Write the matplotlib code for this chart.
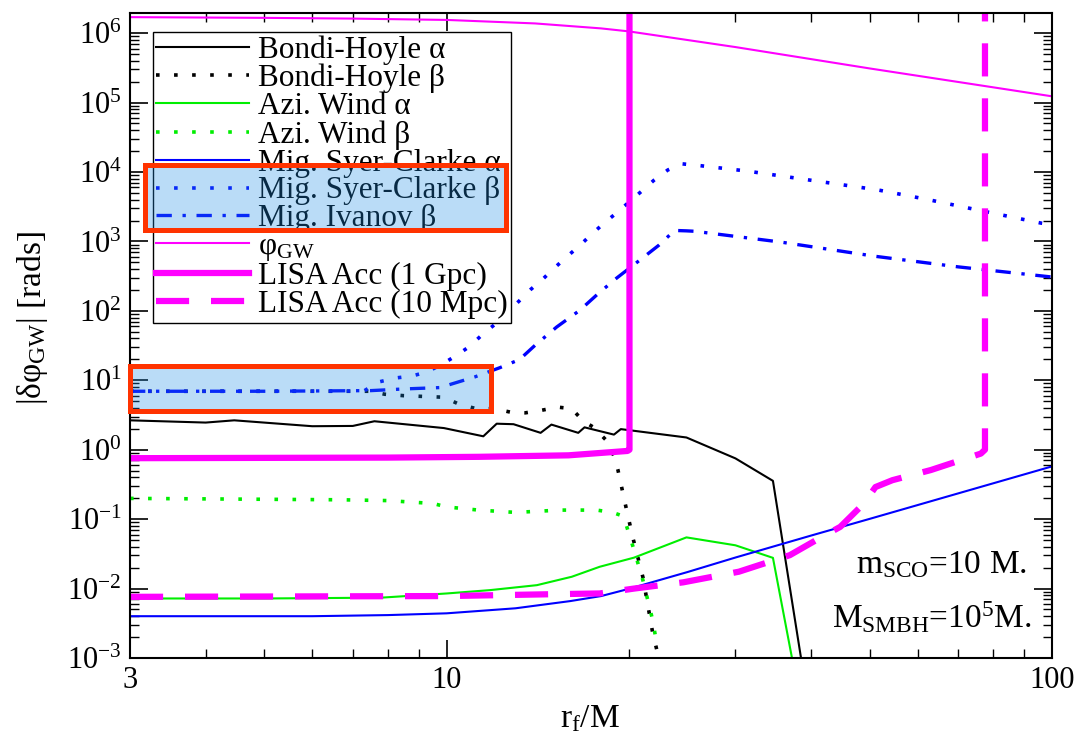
import numpy as np
import matplotlib
matplotlib.use('Agg')
import matplotlib.pyplot as plt
from matplotlib.patches import Rectangle
from matplotlib.ticker import LogLocator, NullFormatter, FixedLocator, FixedFormatter

plt.rcParams['font.family'] = ['Liberation Serif', 'DejaVu Serif']
plt.rcParams['mathtext.fontset'] = 'custom'
plt.rcParams['mathtext.rm'] = 'Liberation Serif'
plt.rcParams['mathtext.it'] = 'Liberation Serif:italic'
plt.rcParams['mathtext.bf'] = 'Liberation Serif:bold'

# --- data (r_f/M, |dphi| in rads) ---
phi_x = [3, 5, 7, 10, 14, 18, 20, 30, 50, 70, 100]
phi_y = [1.70e6, 1.66e6, 1.62e6, 1.55e6, 1.38e6, 1.17e6, 1.06e6, 6.3e5, 3.1e5, 1.98e5, 1.23e5]

bh_a_x = [3, 4.0, 4.46, 6.0, 7.0, 7.6, 9.9, 11.5, 12.1, 12.9, 14.3, 14.9, 16.5, 16.9,
          18.9, 19.4, 24.9, 30, 34.6, 38.5, 40.0]
bh_a_y = [2.65, 2.46, 2.65, 2.18, 2.2, 2.57, 2.05, 1.56, 2.37, 2.33, 1.75, 2.3, 1.75, 2.1,
          1.65, 1.98, 1.5, 0.75, 0.356, 1e-3, 1e-4]

bh_b_x = [3, 5, 7.5, 7.9, 8.5, 9.9, 10.5, 11.2, 12.0, 12.8, 13.5, 14.35, 15.28, 16.1,
          16.8, 17.5, 18.35, 18.9, 19.19, 19.7, 20.3, 21.1, 21.9, 22.3]
bh_b_y = [6.95, 6.95, 6.95, 6.3, 6.0, 5.7, 4.5, 3.9, 3.9, 3.45, 3.4, 3.7, 4.1, 3.9,
          2.6, 2.1, 1.37, 0.81, 0.51, 0.176, 0.055, 0.0146, 2.3e-3, 1.2e-3]

azi_a_x = [3, 5, 7.8, 10, 11.8, 14.1, 16.1, 17.9, 20.4, 24.9, 30, 34.6, 37.2, 38.3]
azi_a_y = [7.2e-3, 7.2e-3, 7.4e-3, 8.5e-3, 9.5e-3, 0.0112, 0.0148, 0.0206, 0.0279, 0.0546,
           0.042, 0.0277, 1e-3, 1e-4]

azi_b_x = [3, 6.7, 8.0, 9.5, 10, 11.3, 13.0, 15.4, 17.7, 18.8, 19.6, 20.4, 21.1, 21.9, 22.3]
azi_b_y = [0.199, 0.19, 0.185, 0.168, 0.15, 0.135, 0.125, 0.135, 0.135, 0.125, 0.11,
           0.036, 0.0132, 3.5e-3, 1.4e-3]

sc_a_x = [3, 6, 8, 10, 13, 16, 18, 20, 25, 30, 40, 50, 70, 100]
sc_a_y = [4.0e-3, 4.0e-3, 4.15e-3, 4.4e-3, 5.2e-3, 6.6e-3, 7.8e-3, 9.9e-3, 0.0173, 0.028,
          0.058, 0.101, 0.235, 0.575]

sc_b_x = [3, 5, 7.3, 7.73, 8.24, 8.76, 9.29, 9.87, 10.35, 10.92, 11.42, 12.02, 13.16, 13.76,
          14.44, 15.09, 15.82, 16.6, 17.4, 18.2, 19.13, 21.0, 22.0, 23.2, 24.5, 26.1, 31.4,
          40.2, 51.4, 62.3, 75.1, 96, 100]
sc_b_y = [6.95, 6.95, 7.0, 9.47, 10.8, 11.5, 13.2, 17.4, 22.4, 30.8, 44.4, 64, 137, 202,
          290, 419, 608, 876, 1291, 1834, 2614, 5300, 7590, 1.07e4, 1.31e4, 1.24e4, 1.03e4,
          7550, 5546, 4018, 2856, 1834, 1750]

iv_b_x = [3, 5, 7.5, 8.5, 9.75, 11.14, 12.25, 13.2, 14.0, 15.2, 16.6, 17.8, 19.1, 21.0,
          22.4, 23.8, 24.9, 25.7, 35.7, 51.1, 70, 100]
iv_b_y = [6.95, 6.95, 7.1, 7.5, 7.85, 11.2, 15.2, 19.9, 31.9, 58.5, 102, 177, 297, 564,
          876, 1439, 1420, 1400, 977, 610, 430, 307]

lisa1_x = [3, 8, 11.3, 15.9, 19.9, 20.05, 20.05]
lisa1_y = [0.755, 0.77, 0.79, 0.83, 0.96, 1.0, 1e7]

lisa10_x = [3, 10, 15, 17.9, 20.4, 24.6, 30.4, 36.9, 40.8, 44.7, 48.9, 51.1, 54.5, 63.1,
            76.3, 77.5, 77.5]
lisa10_y = [7.6e-3, 7.8e-3, 8.3e-3, 8.5e-3, 0.010, 0.0123, 0.0175, 0.0303, 0.05, 0.0775,
            0.168, 0.29, 0.364, 0.51, 0.88, 1.0, 1e7]

labels = ['Bondi-Hoyle α', 'Bondi-Hoyle β', 'Azi. Wind α', 'Azi. Wind β',
          'Mig. Syer-Clarke α', 'Mig. Syer-Clarke β', 'Mig. Ivanov β',
          r'φ$_{\rm GW}$', 'LISA Acc (1 Gpc)', 'LISA Acc (10 Mpc)']

fig = plt.figure(figsize=(10.77, 7.40), dpi=100)
ax = fig.add_axes([130 / 1077, 1 - 658 / 740, 922 / 1077, 645 / 740])

green = '#00ee00'
ax.plot(bh_a_x, bh_a_y, color='black', lw=1.5, label=labels[0])
ax.plot(bh_b_x, bh_b_y, color='black', lw=2.6, ls=(0, (1, 4)), label=labels[1])
ax.plot(azi_a_x, azi_a_y, color=green, lw=1.5, label=labels[2])
ax.plot(azi_b_x, azi_b_y, color=green, lw=2.6, ls=(0, (1, 4)), label=labels[3])
ax.plot(sc_a_x, sc_a_y, color='#0000ff', lw=1.5, label=labels[4])
ax.plot(sc_b_x, sc_b_y, color='#0000ff', lw=2.6, ls=(0, (1, 4)), label=labels[5])
ax.plot(iv_b_x, iv_b_y, color='#0000ff', lw=2.4, ls=(0, (4.6, 3.2, 1, 3.2)), label=labels[6])
ax.plot(phi_x, phi_y, color='#ff00ff', lw=1.5, label=labels[7])
ax.plot(lisa1_x, lisa1_y, color='#ff00ff', lw=4.5, label=labels[8])
ax.plot(lisa10_x, lisa10_y, color='#ff00ff', lw=4.5, ls=(0, (5.3, 3.5)), label=labels[9])

ax.set_xscale('log')
ax.set_yscale('log')
ax.set_xlim(3, 100)
ax.set_ylim(1e-3, 1.95e6)

ax.xaxis.set_major_locator(FixedLocator([3, 10, 100]))
ax.xaxis.set_major_formatter(FixedFormatter(['3', '10', '100']))
ax.xaxis.set_minor_locator(LogLocator(base=10, subs=np.arange(2, 10)))
ax.xaxis.set_minor_formatter(NullFormatter())
ax.yaxis.set_major_locator(LogLocator(base=10, numticks=20))
ax.yaxis.set_minor_locator(LogLocator(base=10, subs=np.arange(2, 10), numticks=20))
ax.yaxis.set_minor_formatter(NullFormatter())
ax.tick_params(which='both', direction='in', top=True, right=True, labelsize=22)
ax.tick_params(which='major', length=13, width=1.2, pad=6)
ax.tick_params(which='minor', length=6.5, width=1.0)
for s in ax.spines.values():
    s.set_linewidth(1.5)

fig.text(590 / 1077, 1 - 727 / 740, r'r$_{\rm f}$/M', fontsize=24, ha='center', va='baseline')
fig.text(33 / 1077, 1 - 318 / 740, r'|δφ$_{\rm GW}$| [rads]', fontsize=24,
         rotation=90, ha='center', va='center')

fig.text(1027 / 1077, 1 - 573 / 740, r'm$_{\rm SCO}$=10 M.', fontsize=24, ha='right', va='baseline')
fig.text(1032 / 1077, 1 - 628 / 740, r'M$_{\rm SMBH}$=10$^{5}$M.', fontsize=24, ha='right', va='baseline')

leg = ax.legend(loc='upper left', bbox_to_anchor=(0.0246, 0.971), borderaxespad=0,
                fontsize=22.5, labelspacing=-0.035, borderpad=0.12, handlelength=2.95,
                handletextpad=0.3, fancybox=False, framealpha=1, edgecolor='black')
leg.get_frame().set_linewidth(1.0)

# highlight boxes (drawn on top, translucent fill)
fill_c = (0.11, 0.556, 0.897)
for (x0, x1, y0, y1) in [(0.0168, 0.4073, 0.6636, 0.7643), (0.0005, 0.3910, 0.3837, 0.4527)]:
    ax.add_patch(Rectangle((x0, y0), x1 - x0, y1 - y0, transform=ax.transAxes,
                           facecolor=fill_c, alpha=0.3, edgecolor='none', zorder=10, clip_on=False))
    ax.add_patch(Rectangle((x0, y0), x1 - x0, y1 - y0, transform=ax.transAxes,
                           facecolor='none', edgecolor='#ff3300', lw=3.6, zorder=11, clip_on=False))

fig.savefig('out.png', dpi=100)
